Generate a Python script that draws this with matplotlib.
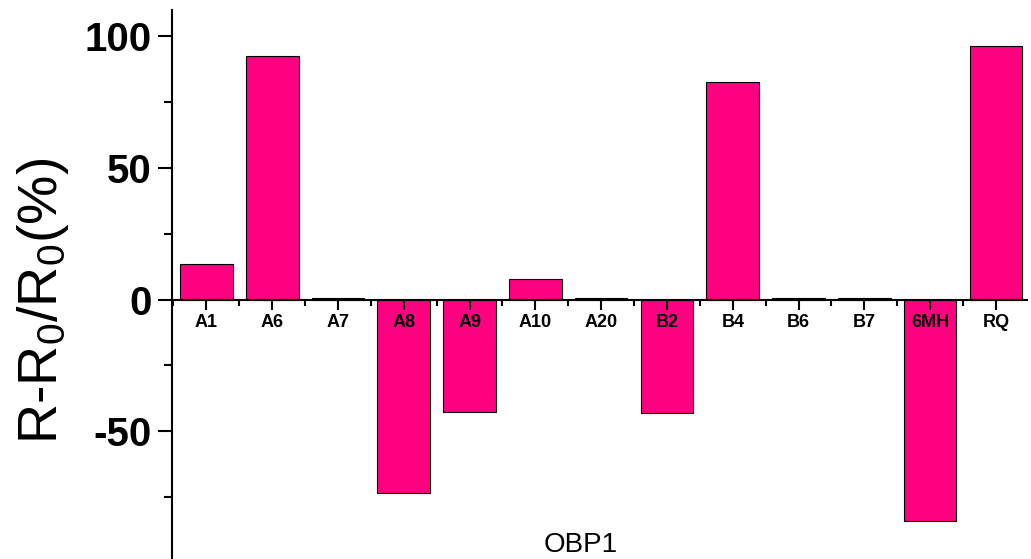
import matplotlib

matplotlib.use("Agg")
import matplotlib.pyplot as plt
from matplotlib.ticker import MultipleLocator

plt.rcParams["font.family"] = ["Liberation Sans", "DejaVu Sans"]
plt.rcParams["mathtext.default"] = "regular"
plt.rcParams["axes.unicode_minus"] = False

# Respuesta relativa por analito (OBP1)
muestras = ["A1", "A6", "A7", "A8", "A9", "A10", "A20",
            "B2", "B4", "B6", "B7", "6MH", "RQ"]
respuesta = [13.5, 92.5, 0.5, -73.5, -42.5, 8.0, 0.5,
             -43.0, 82.5, 0.5, 0.5, -84.0, 96.5]

COLOR_BARRA = "#FF0080"

fig = plt.figure(figsize=(10.31, 5.59), dpi=100)
ax = fig.add_axes([0.167, 0.0, 0.829, 0.982])

pos = range(len(muestras))
ax.bar(pos, respuesta, width=0.8, color=COLOR_BARRA,
       edgecolor="black", linewidth=0.8)

ax.set_xlim(-0.52, len(muestras) - 0.53)
ax.set_ylim(-98.5, 110)

# ejes al estilo Origin: solo eje izquierdo y eje x en y=0
ax.spines["top"].set_visible(False)
ax.spines["right"].set_visible(False)
ax.spines["bottom"].set_position(("data", 0))
ax.spines["left"].set_linewidth(1.5)
ax.spines["bottom"].set_linewidth(1.5)

ax.set_xticks(list(pos))
ax.set_xticklabels(muestras, fontsize=13, fontweight="bold")
ax.xaxis.set_minor_locator(MultipleLocator(1, offset=0.5))
ax.tick_params(axis="x", which="major", direction="out", length=7, width=1.5, pad=3)
ax.tick_params(axis="x", which="minor", direction="out", length=4, width=1.5)

ax.set_yticks([-50, 0, 50, 100])
ax.yaxis.set_minor_locator(MultipleLocator(25))
ax.tick_params(axis="y", which="major", direction="out", length=10, width=1.5,
               labelsize=29, pad=5)
ax.tick_params(axis="y", which="minor", direction="out", length=6, width=1.5)
for etiqueta in ax.get_yticklabels():
    etiqueta.set_fontweight("bold")

ax.set_ylabel("R-R$_0$/R$_0$(%)", fontsize=40)
ax.yaxis.set_label_coords(-0.118, 0.47)
fig.text(0.563, 0.025, "OBP1", fontsize=20, ha="center", va="center")

fig.savefig("out.png", dpi=100)
